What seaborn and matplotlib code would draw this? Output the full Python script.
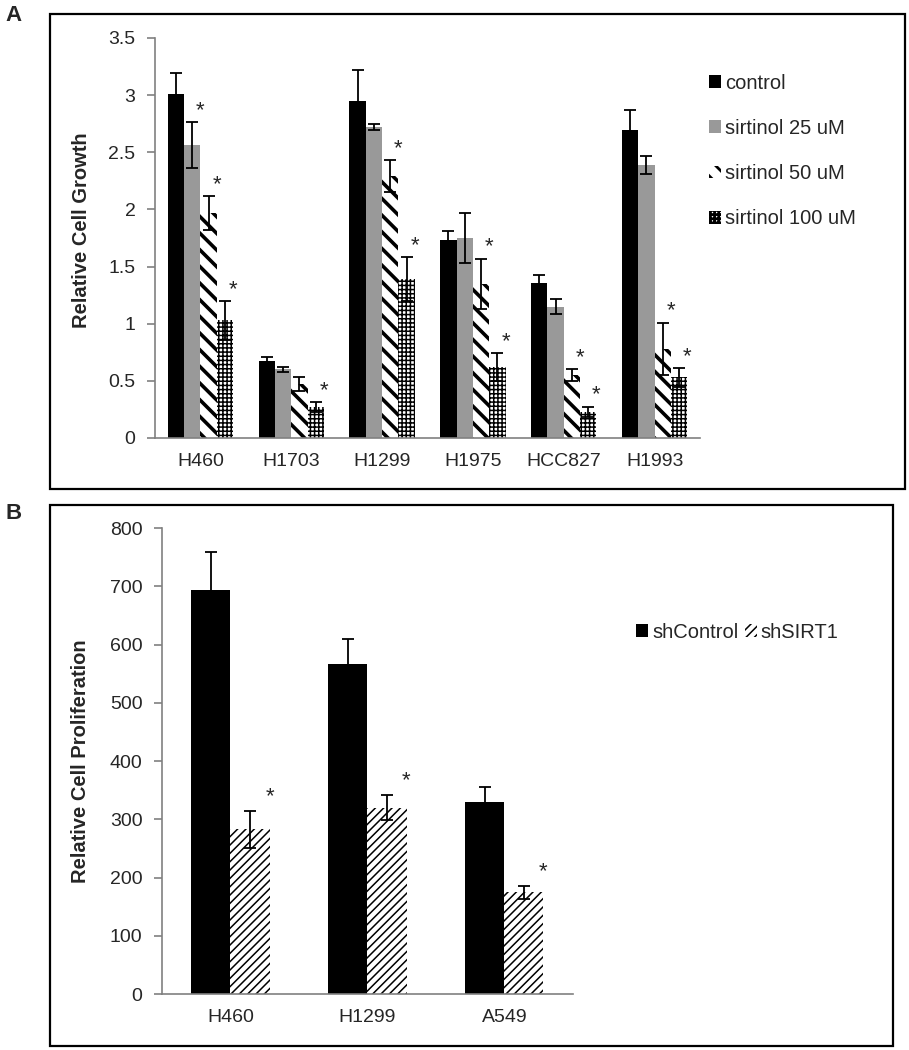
import matplotlib
matplotlib.use("Agg")
import matplotlib.pyplot as plt
import seaborn as sns
import pandas as pd
from matplotlib.patches import Rectangle

# Painel A - crescimento relativo com sirtinol
linhas_a = ["H460", "H1703", "H1299", "H1975", "HCC827", "H1993"]
grupos_a = ["control", "sirtinol 25 uM", "sirtinol 50 uM", "sirtinol 100 uM"]
control = [3.01, 0.67, 2.95, 1.73, 1.36, 2.69]
control_err = [0.18, 0.035, 0.27, 0.08, 0.065, 0.175]
sirt25 = [2.56, 0.60, 2.72, 1.75, 1.15, 2.39]
sirt25_err = [0.20, 0.02, 0.03, 0.22, 0.065, 0.08]
sirt50 = [1.97, 0.47, 2.29, 1.35, 0.55, 0.78]
sirt50_err = [0.15, 0.06, 0.14, 0.22, 0.05, 0.23]
sirt100 = [1.03, 0.27, 1.39, 0.62, 0.23, 0.53]
sirt100_err = [0.17, 0.045, 0.19, 0.12, 0.045, 0.08]
# asteriscos (significância) por grupo
estrela_a = [
    [False] * 6,
    [True, False, False, False, False, False],
    [True, False, True, True, True, True],
    [True, True, True, True, True, True],
]

# Painel B - proliferação com shRNA
linhas_b = ["H460", "H1299", "A549"]
grupos_b = ["shControl", "shSIRT1"]
shcontrol = [694, 566, 330]
shcontrol_err = [65, 43, 26]
shsirt1 = [283, 320, 175]
shsirt1_err = [32, 22, 11]
estrela_b = [[False, False, False], [True, True, True]]

df_a = pd.DataFrame({
    "linha": linhas_a * 4,
    "grupo": [g for g in grupos_a for _ in linhas_a],
    "valor": control + sirt25 + sirt50 + sirt100,
})
erros_a = [control_err, sirt25_err, sirt50_err, sirt100_err]
vals_a = [control, sirt25, sirt50, sirt100]

df_b = pd.DataFrame({
    "linha": linhas_b * 2,
    "grupo": [g for g in grupos_b for _ in linhas_b],
    "valor": shcontrol + shsirt1,
})
erros_b = [shcontrol_err, shsirt1_err]
vals_b = [shcontrol, shsirt1]

sns.set_style("white")
plt.rcParams["font.family"] = ["Liberation Sans", "DejaVu Sans"]

fig = plt.figure(figsize=(9.09, 10.5), dpi=100)
ax_a = fig.add_axes([0.1705, 0.5829, 0.5996, 0.381])
ax_b = fig.add_axes([0.1782, 0.0533, 0.4521, 0.4438])

cinza = "#808080"
tem_hlw = hasattr(Rectangle, "set_hatch_linewidth")


def estilo_eixo(ax, n):
    sns.despine(ax=ax)
    for s in ["left", "bottom"]:
        ax.spines[s].set_color(cinza)
        ax.spines[s].set_linewidth(1.2)
    ax.set_xlim(-0.5, n - 0.5)
    ax.set_xticks([i - 0.5 for i in range(n + 1)], minor=True)
    ax.tick_params(axis="x", which="major", length=0, pad=11, labelsize=14)
    ax.tick_params(axis="x", which="minor", length=7, color=cinza, width=1.2, direction="out")
    ax.tick_params(axis="y", which="major", length=6, color=cinza, width=1.2,
                   direction="out", pad=8, labelsize=14, left=True)
    ax.set_xlabel("")


def estilizar(ax, estilos, erros, vals, estrelas, dy, dx):
    for cont, (fc, hatch, hlw), err, val, est in zip(ax.containers, estilos, erros, vals, estrelas):
        xs = []
        for p in cont.patches:
            p.set_facecolor(fc)
            p.set_linewidth(0)
            if hatch:
                p.set_hatch(hatch)
                p.set_edgecolor("black")
                if tem_hlw:
                    p.set_hatch_linewidth(hlw)
            xs.append(p.get_x() + p.get_width() / 2)
        ax.errorbar(xs, val, yerr=err, fmt="none", ecolor="black",
                    elinewidth=1.3, capsize=4, capthick=1.3, zorder=5)
        w = cont.patches[0].get_width()
        for x, v, e, s in zip(xs, val, err, est):
            if s:
                ax.text(x + w * dx, v + e + dy, "*", ha="center", va="center",
                        fontsize=16)


# ---- Painel A ----
plt.rcParams["hatch.linewidth"] = 2.0
sns.barplot(data=df_a, x="linha", y="valor", hue="grupo", order=linhas_a,
            hue_order=grupos_a, errorbar=None, width=0.72, gap=0, ax=ax_a)
ax_a.legend_.remove()
estilos_a = [("black", None, 0), ("#999999", None, 0),
             ("white", "\\\\", 2.6), ("white", "++++", 1.1)]
estilizar(ax_a, estilos_a, erros_a, vals_a, estrela_a, 0.1, 0.5)
estilo_eixo(ax_a, len(linhas_a))
ax_a.set_ylim(0, 3.5)
ax_a.set_yticks([0, 0.5, 1, 1.5, 2, 2.5, 3, 3.5])
ax_a.set_yticklabels(["0", "0.5", "1", "1.5", "2", "2.5", "3", "3.5"])
ax_a.set_ylabel("Relative Cell Growth", fontsize=14.5, fontweight="bold")
ax_a.yaxis.set_label_coords(-0.118, 0.52)
fig.legend(ax_a.containers, grupos_a, loc="upper left",
           bbox_to_anchor=(0.76, 0.947), frameon=False, fontsize=14.5,
           handlelength=0.6, handleheight=0.6, handletextpad=0.2, labelspacing=1.3)

# ---- Painel B ----
plt.rcParams["hatch.linewidth"] = 1.1
sns.barplot(data=df_b, x="linha", y="valor", hue="grupo", order=linhas_b,
            hue_order=grupos_b, errorbar=None, width=0.57, gap=0, ax=ax_b)
ax_b.legend_.remove()
estilos_b = [("black", None, 0), ("white", "////", 1.1)]
estilizar(ax_b, estilos_b, erros_b, vals_b, estrela_b, 24, 0.5)
estilo_eixo(ax_b, len(linhas_b))
ax_b.set_ylim(0, 800)
ax_b.set_yticks(range(0, 801, 100))
ax_b.set_ylabel("Relative Cell Proliferation", fontsize=14.5, fontweight="bold")
ax_b.yaxis.set_label_coords(-0.175, 0.5)
fig.legend(ax_b.containers, grupos_b, loc="upper left", ncol=2,
           bbox_to_anchor=(0.68, 0.424), frameon=False, fontsize=14.5,
           handlelength=0.6, handleheight=0.6, handletextpad=0.2, columnspacing=0.3)

# molduras dos painéis e letras
fig.add_artist(Rectangle((0.055, 0.5343), 0.9406, 0.4524, transform=fig.transFigure,
                         fill=False, edgecolor="black", linewidth=1.6))
fig.add_artist(Rectangle((0.055, 0.0038), 0.9274, 0.5152, transform=fig.transFigure,
                         fill=False, edgecolor="black", linewidth=1.6))
fig.text(0.006, 0.985, "A", fontsize=16, fontweight="bold", va="center")
fig.text(0.006, 0.511, "B", fontsize=16, fontweight="bold", va="center")

plt.savefig("out.png", dpi=100)
